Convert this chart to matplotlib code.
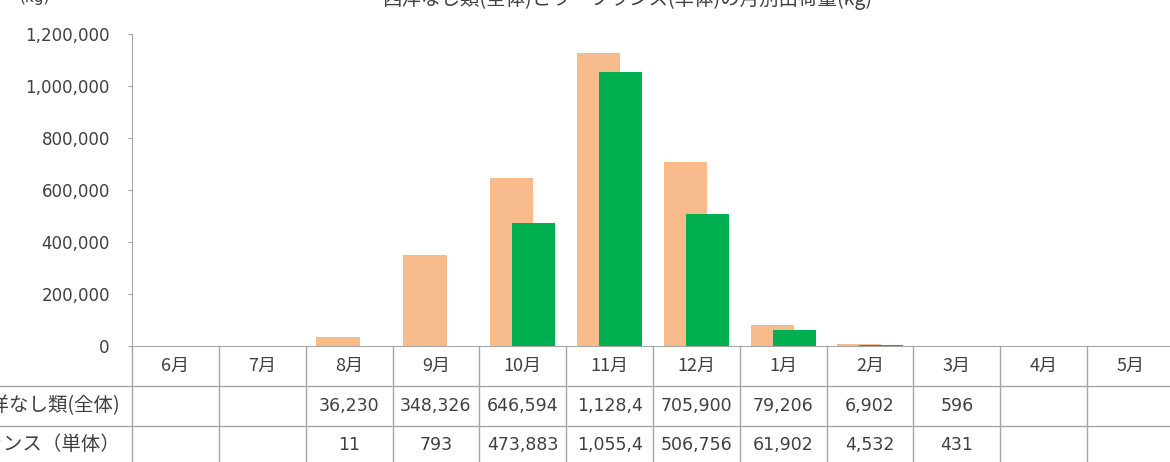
import numpy as np
import matplotlib.pyplot as plt
from matplotlib.lines import Line2D
from matplotlib.transforms import blended_transform_factory

plt.rcParams['font.family'] = ['DejaVu Sans', 'Noto Sans CJK JP']

# data
months = ['6月', '7月', '8月', '9月', '10月', '11月', '12月', '1月', '2月', '3月', '4月', '5月']
series_names = ['西洋なし類(全体)', 'ラ・フランス（単体）']
pear_total = [np.nan, np.nan, 36230, 348326, 646594, 1128450, 705900, 79206, 6902, 596, np.nan, np.nan]
la_france = [np.nan, np.nan, 11, 793, 473883, 1055450, 506756, 61902, 4532, 431, np.nan, np.nan]
yticks = [0, 200000, 400000, 600000, 800000, 1000000, 1200000]
title = '西洋なし類(全体)とラ・フランス(単体)の月別出荷量(kg)'

W, H = 1170, 462
ORANGE = '#F8BB8B'
GREEN = '#00B050'
GRID = '#A6A6A6'
TXT = '#404040'
JP = ['Noto Sans CJK JP', 'DejaVu Sans']


def fy(py):
    return 1 - py / H


fig = plt.figure(figsize=(W / 100, H / 100), dpi=100)
ax = fig.add_axes([132 / W, fy(346), (1174 - 132) / W, (346 - 34) / H])

x = np.arange(len(months))
ax.bar(x - 0.127, pear_total, width=0.5, color=ORANGE, zorder=2)
ax.bar(x + 0.127, la_france, width=0.5, color=GREEN, zorder=3)

ax.set_xlim(-0.5, len(months) - 0.5)
ax.set_ylim(0, 1200000)
ax.set_yticks(yticks)
ax.set_yticklabels([f'{v:,}' for v in yticks], fontsize=12, color=TXT)
ax.set_xticks([])
ax.tick_params(axis='y', length=3, pad=13, color=GRID)
for s in ['top', 'right']:
    ax.spines[s].set_visible(False)
ax.spines['left'].set_color(GRID)
ax.spines['bottom'].set_color(GRID)

# title (cut off at top in the original)
fig.text(628 / W, fy(5), title, ha='center', va='baseline', fontsize=14,
         color=TXT, family=JP)
fig.text(35 / W, fy(2), '(kg)', ha='center', va='baseline', fontsize=11, color=TXT)

# data table under the chart
tr = blended_transform_factory(ax.transData, fig.transFigure)
row_lines = [386, 426]
for py in row_lines:
    fig.add_artist(Line2D([0, 1], [fy(py), fy(py)], color=GRID, lw=1,
                          transform=fig.transFigure))
for i in range(len(months) + 1):
    fig.add_artist(Line2D([i - 0.5, i - 0.5], [fy(346), fy(H + 5)], color=GRID,
                          lw=1, transform=tr))

for i, m in enumerate(months):
    fig.text(i, fy(366), m, transform=tr, ha='center', va='center',
             fontsize=13, color=TXT, family=JP)


def cell(v):
    if np.isnan(v):
        return ''
    s = f'{int(v):,}'
    return s[:7]


for row, (vals, py) in enumerate([(pear_total, 406), (la_france, 445)]):
    fig.text(120 / W, fy(py), series_names[row], ha='right', va='center',
             fontsize=14, color=TXT, family=JP)
    for i, v in enumerate(vals):
        fig.text(i, fy(py), cell(v), transform=tr, ha='center', va='center',
                 fontsize=12.5, color=TXT)

fig.savefig('out.png', dpi=100)
